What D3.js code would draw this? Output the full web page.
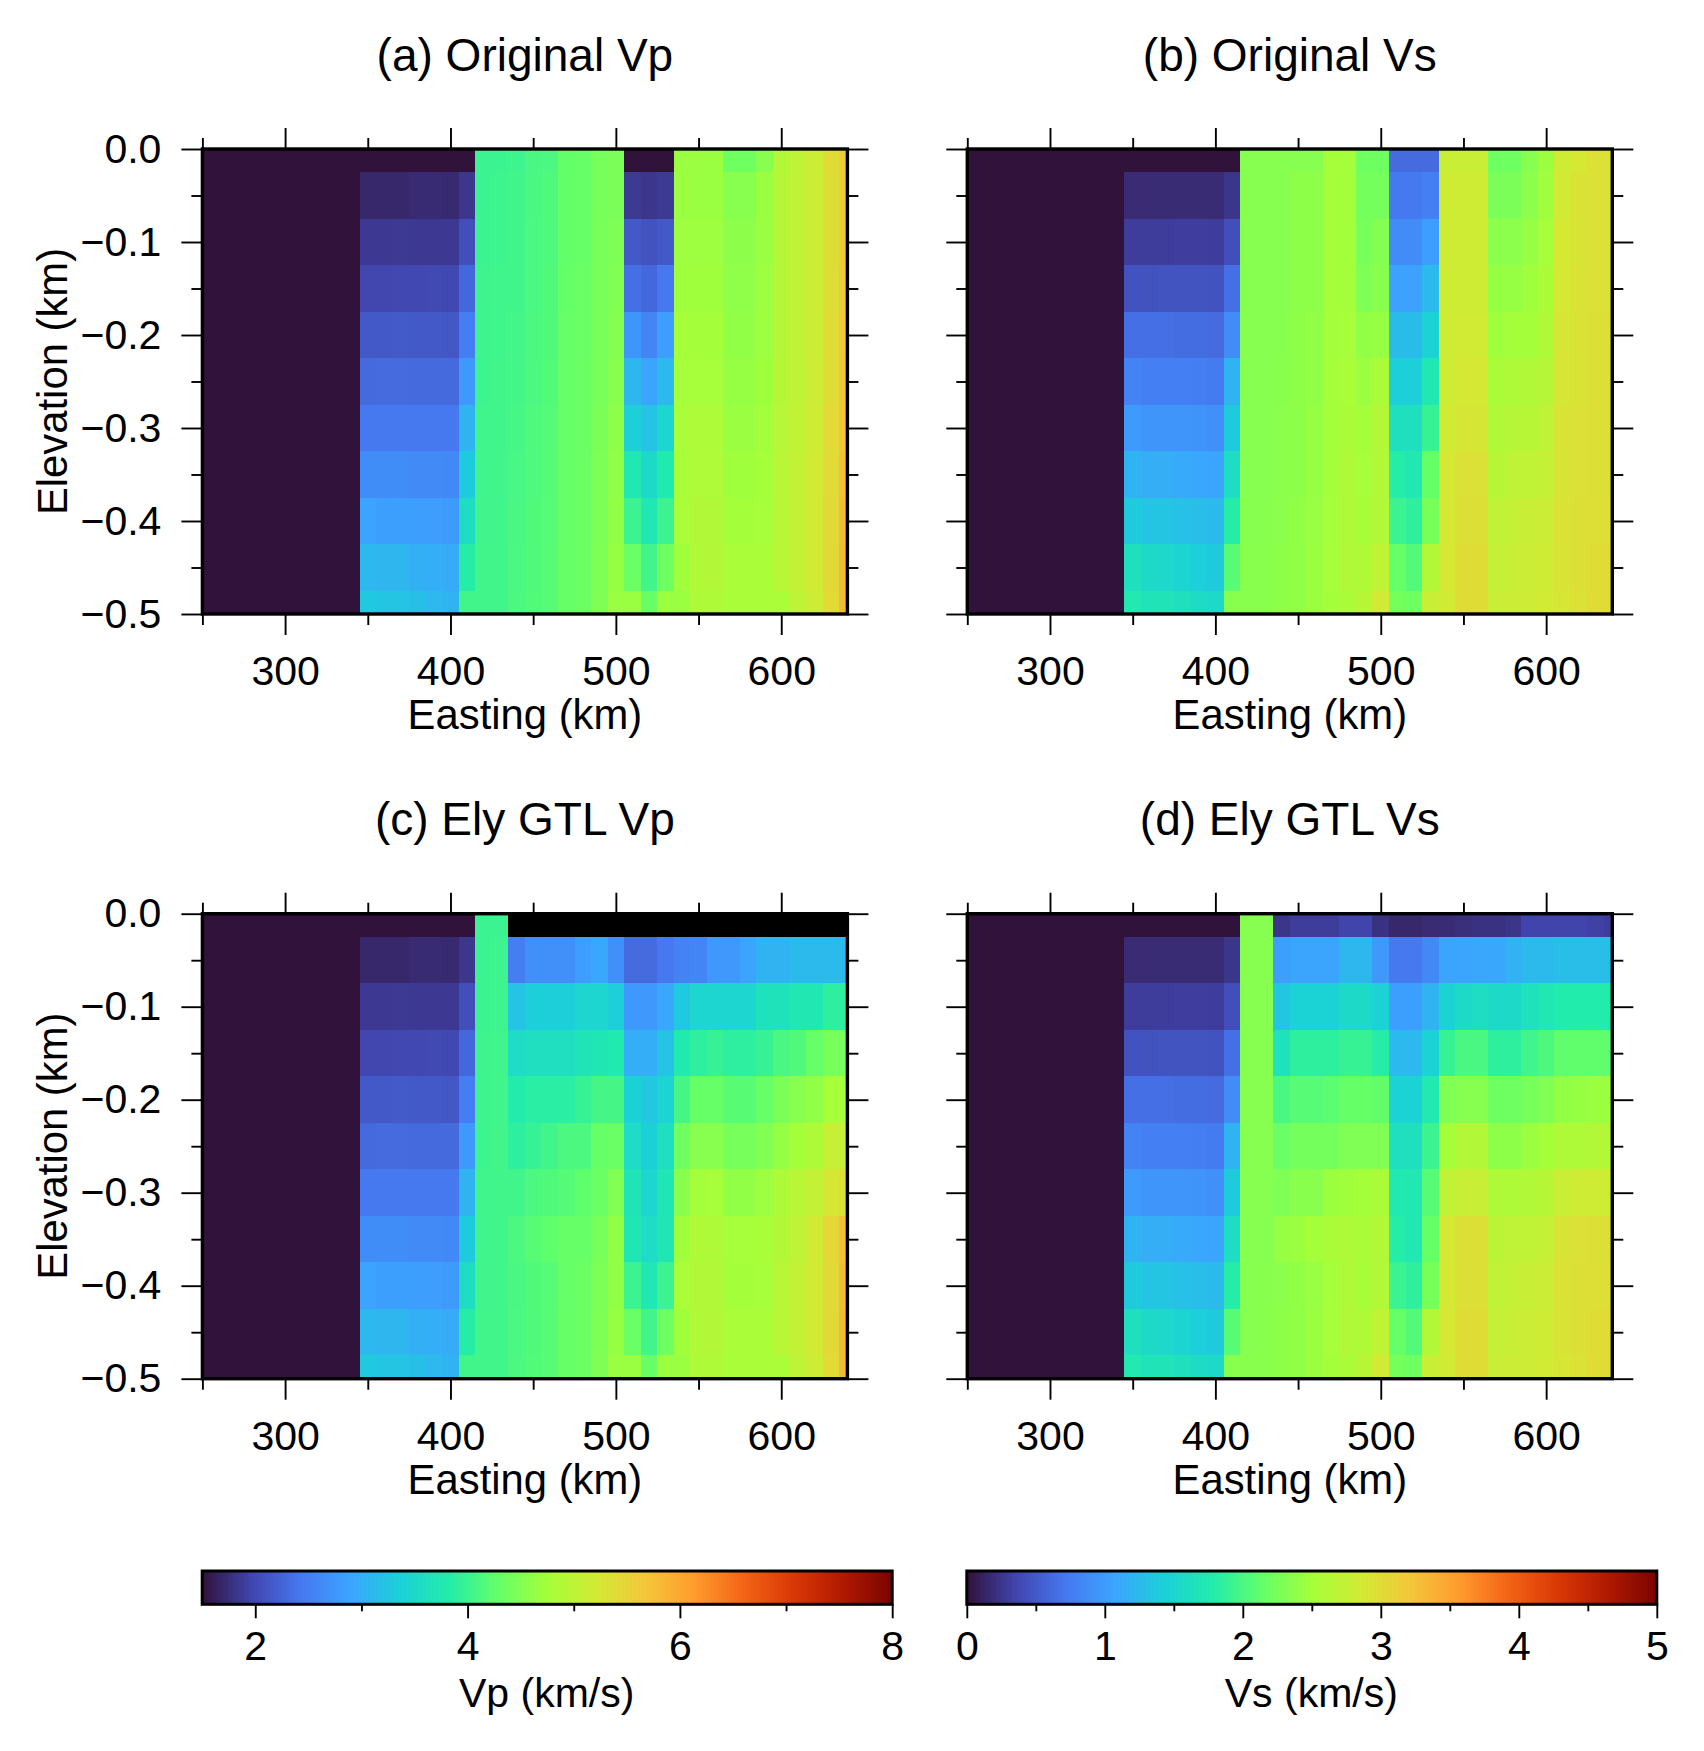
<!DOCTYPE html>
<html>
<head>
<meta charset="utf-8">
<script src="https://cdn.jsdelivr.net/npm/d3@7"></script>
<style>
html,body{margin:0;padding:0;background:#fff}
svg{display:block}
text{font-family:"Liberation Sans",Arial,sans-serif;fill:#000}
</style>
</head>
<body>
<svg id="chart" width="1704" height="1751"></svg>
<script>
// ---- data ----
const turboColors = ["#30123b","#4145ad","#4678f0","#3ca4ff","#1bd0d8","#22ecaa","#64ff68","#a4ff3a","#d2ea34","#f3c63a","#fe9b2d","#f36315","#d93806","#b11901","#7a0402"];
const eastingEdges = [345,355,365,375,385,395,405,415,425,435,445,455,465,475,485,495,505,515,525,535,545,555,565,575,585,595,605,615,625,635,640];
const elevationEdges = [0,-0.025,-0.075,-0.125,-0.175,-0.225,-0.275,-0.325,-0.375,-0.425,-0.475,-0.5];
const xMajor = [300,400,500,600];
const xMinor = [250,350,450,550];
const yMajor = [0,-0.1,-0.2,-0.3,-0.4,-0.5];
const yMinor = [-0.05,-0.15,-0.25,-0.35,-0.45];
const vpBarMajor = [2,4,6,8];
const vpBarMinor = [3,5,7];
const vsBarMajor = [0,1,2,3,4,5];
const vsBarMinor = [0.5,1.5,2.5,3.5,4.5];
const titles = ["(a) Original Vp","(b) Original Vs","(c) Ely GTL Vp","(d) Ely GTL Vs"];

const vpOriginal = [
[1.5,1.5,1.5,1.5,1.5,1.5,1.5, 4.00,4.00,4.02,4.10,4.12,4.28,4.30,4.42,4.45, 1.5,1.5,1.5, 4.68,4.68,4.68,4.36,4.36,4.55,4.90,5.02,5.14,5.40,5.60],
[1.70,1.70,1.70,1.73,1.73,1.72,1.83, 4.00,4.02,4.04,4.10,4.14,4.28,4.30,4.42,4.45, 1.86,1.83,1.86, 4.68,4.68,4.68,4.55,4.55,4.68,4.92,5.02,5.14,5.38,5.62],
[1.85,1.85,1.86,1.85,1.85,1.85,2.05, 4.00,4.02,4.05,4.11,4.14,4.28,4.31,4.43,4.48, 2.15,2.09,2.15, 4.70,4.70,4.70,4.58,4.58,4.68,4.92,5.02,5.14,5.38,5.62],
[1.98,1.98,1.99,1.99,2.00,1.99,2.28, 4.01,4.03,4.05,4.11,4.15,4.29,4.32,4.43,4.50, 2.35,2.28,2.44, 4.72,4.72,4.72,4.60,4.60,4.70,4.92,5.02,5.15,5.38,5.64],
[2.15,2.15,2.16,2.15,2.15,2.14,2.48, 4.02,4.03,4.06,4.12,4.15,4.30,4.33,4.44,4.52, 2.74,2.57,2.83, 4.75,4.75,4.75,4.62,4.62,4.70,4.92,5.02,5.15,5.40,5.66],
[2.30,2.31,2.31,2.30,2.30,2.30,2.77, 4.02,4.04,4.06,4.12,4.16,4.30,4.34,4.44,4.55, 3.09,2.90,3.13, 4.78,4.78,4.78,4.65,4.65,4.72,4.92,5.02,5.16,5.40,5.68],
[2.44,2.44,2.44,2.43,2.43,2.43,3.06, 4.03,4.04,4.08,4.13,4.17,4.30,4.34,4.45,4.58, 3.35,3.22,3.45, 4.80,4.84,4.84,4.68,4.68,4.74,4.94,5.03,5.18,5.42,5.70],
[2.65,2.65,2.65,2.63,2.62,2.60,3.29, 4.03,4.04,4.09,4.14,4.18,4.30,4.34,4.46,4.60, 3.74,3.52,3.78, 4.80,4.86,4.86,4.72,4.72,4.76,4.95,5.05,5.20,5.42,5.75],
[2.88,2.84,2.84,2.83,2.82,2.80,3.58, 4.04,4.05,4.10,4.15,4.19,4.30,4.34,4.46,4.62, 4.00,3.74,4.00, 4.80,4.88,4.88,4.75,4.75,4.78,4.96,5.05,5.20,5.44,5.80],
[3.10,3.08,3.08,3.02,3.00,2.98,3.84, 4.04,4.05,4.11,4.15,4.20,4.30,4.34,4.47,4.65, 4.33,4.04,4.36, 4.72,4.88,4.90,4.80,4.80,4.80,4.96,5.05,5.20,5.44,5.82],
[3.28,3.24,3.22,3.18,3.10,3.06,4.04, 4.05,4.05,4.12,4.16,4.20,4.30,4.34,4.48,4.68, 4.68,4.30,4.68, 4.68,4.85,4.85,4.80,4.80,4.80,4.82,5.02,5.16,5.42,5.82]
];

const vsOriginal = [
[0,0,0,0,0,0,0, 2.33,2.33,2.33,2.33,2.33,2.50,2.50, 2.20,2.20, 0.62,0.62,0.62, 2.78,2.78,2.78,2.20,2.20,2.33,2.45,2.83,2.88,2.95,2.95],
[0.18,0.18,0.18,0.18,0.18,0.18,0.25, 2.33,2.33,2.33,2.38,2.38,2.50,2.50, 2.23,2.23, 0.72,0.72,0.78, 2.83,2.83,2.83,2.27,2.27,2.36,2.47,2.85,2.92,2.95,2.95],
[0.30,0.30,0.30,0.31,0.31,0.30,0.43, 2.33,2.33,2.33,2.38,2.38,2.50,2.50, 2.25,2.32, 0.88,0.88,1.02, 2.83,2.83,2.83,2.36,2.36,2.42,2.52,2.88,2.92,2.95,2.95],
[0.45,0.45,0.46,0.46,0.46,0.45,0.65, 2.33,2.33,2.33,2.38,2.38,2.50,2.50, 2.30,2.35, 1.05,1.05,1.25, 2.83,2.83,2.83,2.42,2.42,2.47,2.55,2.88,2.93,2.95,2.95],
[0.65,0.65,0.65,0.64,0.64,0.62,0.88, 2.33,2.33,2.34,2.38,2.40,2.50,2.52, 2.40,2.42, 1.27,1.27,1.45, 2.83,2.85,2.85,2.48,2.50,2.50,2.58,2.90,2.93,2.96,2.96],
[0.80,0.78,0.78,0.78,0.76,0.74,1.20, 2.33,2.33,2.35,2.38,2.40,2.50,2.54, 2.45,2.55, 1.42,1.42,1.72, 2.83,2.88,2.88,2.55,2.58,2.60,2.63,2.90,2.93,2.96,2.96],
[1.00,0.95,0.95,0.95,0.93,0.90,1.38, 2.33,2.33,2.36,2.38,2.42,2.50,2.55, 2.50,2.62, 1.62,1.62,1.90, 2.85,2.90,2.90,2.60,2.63,2.65,2.70,2.92,2.95,2.97,2.97],
[1.20,1.15,1.15,1.13,1.10,1.08,1.60, 2.33,2.33,2.36,2.38,2.42,2.50,2.58, 2.52,2.60, 1.80,1.72,2.15, 2.88,2.95,2.95,2.65,2.70,2.72,2.76,2.92,2.95,2.97,2.97],
[1.38,1.33,1.33,1.30,1.28,1.25,1.80, 2.34,2.35,2.36,2.40,2.44,2.52,2.58, 2.53,2.60, 1.92,1.85,2.25, 2.88,2.97,2.97,2.72,2.75,2.78,2.80,2.93,2.96,2.98,2.98],
[1.62,1.55,1.53,1.48,1.42,1.38,2.08, 2.35,2.35,2.38,2.40,2.45,2.52,2.60, 2.58,2.72, 2.15,2.05,2.62, 2.88,3.00,3.00,2.75,2.78,2.80,2.83,2.93,2.97,3.00,3.00],
[1.75,1.68,1.68,1.62,1.58,1.55,2.35, 2.35,2.35,2.38,2.40,2.45,2.50,2.55, 2.65,2.85, 2.23,2.20,2.78, 2.85,3.00,3.00,2.78,2.80,2.82,2.85,2.90,2.95,3.00,3.00]
];

const vpGtl = [
[1.5,1.5,1.5,1.5,1.5,1.5,1.5, 4.00,4.00,null,null,null,null,null,null,null, null,null,null, null,null,null,null,null,null,null,null,null,null,null],
[1.70,1.70,1.70,1.73,1.73,1.72,1.83, 4.00,4.02,2.50,2.67,2.67,2.67,2.83,2.93,2.67, 2.31,2.31,2.44, 2.54,2.57,2.77,2.77,2.90,3.06,3.06,3.13,3.13,3.13,3.13],
[1.85,1.85,1.86,1.85,1.85,1.85,2.05, 4.00,4.02,3.22,3.35,3.35,3.35,3.45,3.45,3.35, 2.77,2.77,2.93, 3.29,3.45,3.45,3.45,3.45,3.65,3.65,3.74,3.74,3.90,3.90],
[1.98,1.98,1.99,1.99,2.00,1.99,2.28, 4.01,4.03,3.55,3.60,3.60,3.60,3.68,3.72,3.78, 3.00,3.00,3.22, 3.78,3.90,3.97,3.90,3.90,3.97,4.10,4.15,4.30,4.42,4.42],
[2.15,2.15,2.16,2.15,2.15,2.14,2.48, 4.02,4.03,3.80,3.87,3.87,3.87,3.97,4.07,4.07, 3.38,3.26,3.42, 4.07,4.30,4.30,4.20,4.20,4.30,4.46,4.55,4.62,4.78,4.78],
[2.30,2.31,2.31,2.30,2.30,2.30,2.77, 4.02,4.04,3.90,3.97,4.05,4.12,4.12,4.30,4.33, 3.55,3.38,3.60, 4.36,4.55,4.55,4.42,4.42,4.50,4.65,4.75,4.85,5.10,5.10],
[2.44,2.44,2.44,2.43,2.43,2.43,3.06, 4.03,4.04,4.05,4.12,4.15,4.18,4.25,4.33,4.50, 3.68,3.45,3.72, 4.55,4.75,4.78,4.62,4.62,4.70,4.85,4.95,5.05,5.25,5.35],
[2.65,2.65,2.65,2.63,2.62,2.60,3.29, 4.03,4.04,4.12,4.20,4.25,4.30,4.30,4.42,4.62, 3.72,3.55,3.72, 4.72,4.85,4.85,4.78,4.78,4.80,4.90,5.02,5.20,5.45,5.75],
[2.88,2.84,2.84,2.83,2.82,2.80,3.58, 4.04,4.05,4.10,4.15,4.19,4.30,4.34,4.46,4.62, 4.00,3.74,4.00, 4.80,4.88,4.88,4.75,4.75,4.78,4.96,5.05,5.20,5.44,5.80],
[3.10,3.08,3.08,3.02,3.00,2.98,3.84, 4.04,4.05,4.11,4.15,4.20,4.30,4.34,4.47,4.65, 4.33,4.04,4.36, 4.72,4.88,4.90,4.80,4.80,4.80,4.96,5.05,5.20,5.44,5.82],
[3.28,3.24,3.22,3.18,3.10,3.06,4.04, 4.05,4.05,4.12,4.16,4.20,4.30,4.34,4.48,4.68, 4.68,4.30,4.68, 4.68,4.85,4.85,4.80,4.80,4.80,4.82,5.02,5.16,5.42,5.82]
];

const vsGtl = [
[0,0,0,0,0,0,0, 2.33,2.33,0.25,0.30,0.30,0.30,0.35,0.35,0.22, 0.15,0.15,0.18, 0.18,0.20,0.22,0.22,0.25,0.35,0.35,0.35,0.35,0.33,0.30],
[0.18,0.18,0.18,0.18,0.18,0.18,0.25, 2.33,2.33,1.02,1.08,1.08,1.08,1.22,1.22,0.98, 0.72,0.72,0.85, 1.08,1.08,1.10,1.10,1.18,1.25,1.25,1.28,1.28,1.28,1.28],
[0.30,0.30,0.30,0.31,0.31,0.30,0.43, 2.33,2.33,1.35,1.45,1.45,1.45,1.55,1.55,1.45, 1.03,1.03,1.20, 1.47,1.55,1.60,1.55,1.55,1.65,1.72,1.78,1.78,1.78,1.78],
[0.45,0.45,0.46,0.46,0.46,0.45,0.65, 2.33,2.33,1.65,1.85,1.85,1.85,1.90,1.90,1.80, 1.24,1.24,1.45, 1.90,2.00,2.00,1.85,1.85,1.95,2.02,2.12,2.12,2.12,2.12],
[0.65,0.65,0.65,0.64,0.64,0.62,0.88, 2.33,2.33,2.00,2.07,2.07,2.10,2.15,2.15,2.13, 1.45,1.45,1.75, 2.30,2.33,2.33,2.20,2.20,2.25,2.30,2.40,2.42,2.45,2.45],
[0.80,0.78,0.78,0.78,0.76,0.74,1.20, 2.33,2.33,2.17,2.23,2.23,2.23,2.30,2.30,2.30, 1.62,1.62,1.92, 2.50,2.62,2.62,2.38,2.38,2.45,2.50,2.58,2.58,2.62,2.62],
[1.00,0.95,0.95,0.95,0.93,0.90,1.38, 2.33,2.33,2.30,2.35,2.35,2.45,2.48,2.50,2.55, 1.75,1.72,2.07, 2.72,2.78,2.78,2.58,2.58,2.60,2.65,2.78,2.83,2.83,2.83],
[1.20,1.15,1.15,1.13,1.10,1.08,1.60, 2.33,2.33,2.42,2.45,2.50,2.55,2.58,2.55,2.60, 1.80,1.72,2.15, 2.88,2.97,2.97,2.68,2.70,2.72,2.76,2.92,2.95,2.97,2.97],
[1.38,1.33,1.33,1.30,1.28,1.25,1.80, 2.33,2.35,2.36,2.40,2.44,2.52,2.58,2.53,2.60, 1.92,1.85,2.25, 2.88,2.97,2.97,2.72,2.75,2.78,2.80,2.93,2.96,2.98,2.98],
[1.62,1.55,1.53,1.48,1.42,1.38,2.08, 2.33,2.35,2.38,2.40,2.45,2.52,2.60,2.58,2.72, 2.15,2.05,2.62, 2.88,3.00,3.00,2.75,2.78,2.80,2.83,2.93,2.97,3.00,3.00],
[1.75,1.68,1.68,1.62,1.58,1.55,2.35, 2.35,2.35,2.38,2.40,2.45,2.50,2.55,2.65,2.85, 2.23,2.20,2.78, 2.85,3.00,3.00,2.78,2.80,2.82,2.85,2.90,2.95,3.00,3.00]
];

// ---- layout ----
const panelW = 645, panelH = 465;
const panelLayout = [
  {x:202.4, y:149,   data:vpOriginal, lo:1.5, hi:8, yLabels:true},
  {x:967.3, y:149,   data:vsOriginal, lo:0,   hi:5, yLabels:false},
  {x:202.4, y:913.7, data:vpGtl,      lo:1.5, hi:8, yLabels:true},
  {x:967.3, y:913.7, data:vsGtl,      lo:0,   hi:5, yLabels:false}
];
const svg = d3.select("#chart");
const FS = 41, LFS = 41.8, TFS = 46, MAJ = 21, MIN = 11, PAD = 21;

function colorScale(lo, hi){
  const dom = turboColors.map((c,i)=> lo + (hi-lo)*i/(turboColors.length-1));
  return d3.scaleLinear().domain(dom).range(turboColors).interpolate(d3.interpolateRgb).clamp(true);
}
function styleAxis(g){
  g.select(".domain").remove();
  g.selectAll(".tick line").attr("stroke","#000").attr("stroke-width",1.9);
  g.selectAll(".tick text").style("font-size",FS+"px").attr("fill","#000").style("font-family",'"Liberation Sans",Arial,sans-serif');
}

panelLayout.forEach((p,i)=>{
  const g = svg.append("g").attr("transform",`translate(${p.x},${p.y})`);
  const x = d3.scaleLinear().domain([250,640]).range([0,panelW]);
  const y = d3.scaleLinear().domain([0,-0.5]).range([0,panelH]);
  const color = colorScale(p.lo,p.hi);

  // region west of the model block: below the colour range
  g.append("rect").attr("x",x(250)).attr("y",y(0))
    .attr("width",x(345)-x(250)).attr("height",y(-0.5)-y(0))
    .attr("fill",color(p.lo)).attr("shape-rendering","crispEdges");

  const cells = [];
  p.data.forEach((row,r)=>row.forEach((v,c)=>cells.push({r,c,v})));
  g.append("g").selectAll("rect").data(cells).join("rect")
    .attr("x",d=>x(eastingEdges[d.c]))
    .attr("y",d=>y(elevationEdges[d.r]))
    .attr("width",d=>x(eastingEdges[d.c+1])-x(eastingEdges[d.c])+0.4)
    .attr("height",d=>y(elevationEdges[d.r+1])-y(elevationEdges[d.r])+0.4)
    .attr("fill",d=>d.v===null?"#000":color(d.v))
    .attr("shape-rendering","crispEdges");

  const blank = ()=>"";
  const fmtX = d3.format("d"), fmtY = d3.format(".1f");
  g.append("g").attr("transform",`translate(0,${panelH})`)
    .call(d3.axisBottom(x).tickValues(xMinor).tickSize(MIN).tickFormat(blank)).call(styleAxis);
  g.append("g").attr("transform",`translate(0,${panelH})`)
    .call(d3.axisBottom(x).tickValues(xMajor).tickSize(MAJ).tickPadding(PAD).tickFormat(fmtX)).call(styleAxis);
  g.append("g").call(d3.axisTop(x).tickValues(xMinor).tickSize(MIN).tickFormat(blank)).call(styleAxis);
  g.append("g").call(d3.axisTop(x).tickValues(xMajor).tickSize(MAJ).tickFormat(blank)).call(styleAxis);
  g.append("g").call(d3.axisLeft(y).tickValues(yMinor).tickSize(MIN).tickFormat(blank)).call(styleAxis);
  g.append("g").call(d3.axisLeft(y).tickValues(yMajor).tickSize(MAJ).tickPadding(20)
      .tickFormat(p.yLabels?fmtY:blank)).call(styleAxis);
  g.append("g").attr("transform",`translate(${panelW},0)`)
    .call(d3.axisRight(y).tickValues(yMinor).tickSize(MIN).tickFormat(blank)).call(styleAxis);
  g.append("g").attr("transform",`translate(${panelW},0)`)
    .call(d3.axisRight(y).tickValues(yMajor).tickSize(MAJ).tickFormat(blank)).call(styleAxis);

  g.append("rect").attr("width",panelW).attr("height",panelH)
    .attr("fill","none").attr("stroke","#000").attr("stroke-width",3.4);

  g.append("text").attr("x",panelW/2).attr("y",-78.5).attr("text-anchor","middle")
    .style("font-size",TFS+"px").text(titles[i]);
  g.append("text").attr("x",panelW/2).attr("y",panelH+115).attr("text-anchor","middle")
    .style("font-size",LFS+"px").text("Easting (km)");
  if(p.yLabels){
    g.append("text").attr("transform",`translate(-135,${panelH/2}) rotate(-90)`)
      .attr("text-anchor","middle").style("font-size",LFS+"px").text("Elevation (km)");
  }
});

// ---- colour bars ----
const defs = svg.append("defs");
const grad = defs.append("linearGradient").attr("id","turbo").attr("x1","0").attr("x2","1").attr("y1","0").attr("y2","0");
turboColors.forEach((c,i)=>grad.append("stop").attr("offset",i/(turboColors.length-1)).attr("stop-color",c));

const bars = [
  {x:202.2, w:690, dom:[1.5,8], major:vpBarMajor, minor:vpBarMinor, label:"Vp (km/s)"},
  {x:966.8, w:690, dom:[0,5],   major:vsBarMajor, minor:vsBarMinor, label:"Vs (km/s)"}
];
const barY = 1571, barH = 33.3;
bars.forEach(b=>{
  const g = svg.append("g").attr("transform",`translate(${b.x},${barY})`);
  const s = d3.scaleLinear().domain(b.dom).range([0,b.w]);
  g.append("rect").attr("width",b.w).attr("height",barH).attr("fill","url(#turbo)");
  g.append("g").attr("transform",`translate(0,${barH})`)
    .call(d3.axisBottom(s).tickValues(b.minor).tickSize(7).tickFormat(()=>"")).call(styleAxis);
  g.append("g").attr("transform",`translate(0,${barH})`)
    .call(d3.axisBottom(s).tickValues(b.major).tickSize(14).tickPadding(13).tickFormat(d3.format("d"))).call(styleAxis);
  g.append("rect").attr("width",b.w).attr("height",barH).attr("fill","none").attr("stroke","#000").attr("stroke-width",3);
  g.append("text").attr("x",b.w/2-0.5).attr("y",136).attr("text-anchor","middle")
    .style("font-size",FS+"px").text(b.label);
});
</script>
</body>
</html>
